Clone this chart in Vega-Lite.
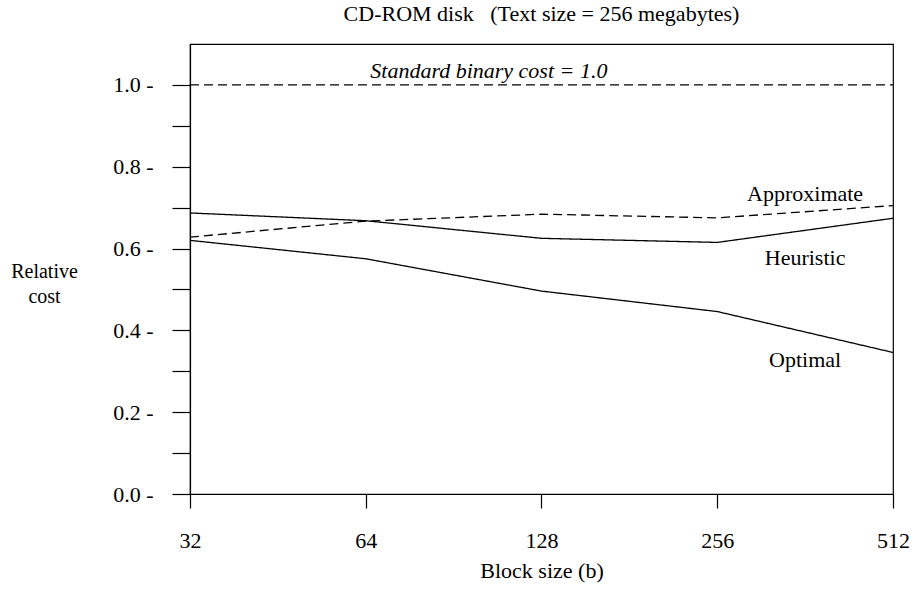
{
  "$schema": "https://vega.github.io/schema/vega-lite/v6.json",
  "width": 703,
  "height": 450,
  "autosize": {"type": "none"},
  "padding": {"left": 190, "top": 44, "right": 22, "bottom": 95},
  "background": "white",
  "title": {
    "text": "CD-ROM disk \u00a0 (Text size = 256 megabytes)",
    "font": "Liberation Serif",
    "fontSize": 22,
    "fontWeight": "normal",
    "color": "black",
    "anchor": "middle",
    "offset": 18
  },
  "config": {
    "font": "Liberation Serif",
    "view": {"stroke": "black", "strokeWidth": 1.2},
    "axis": {
      "domainColor": "black",
      "domainWidth": 1.2,
      "tickColor": "black",
      "tickWidth": 1.2,
      "labelColor": "black",
      "titleColor": "black",
      "labelFont": "Liberation Serif",
      "titleFont": "Liberation Serif",
      "labelFontSize": 22,
      "titleFontSize": 22,
      "titleFontWeight": "normal",
      "grid": false,
      "labelOverlap": false,
      "labelFlush": false,
      "labelBound": false
    }
  },
  "datasets": {
    "curves": [
      {"b": 32, "cost": 0.62, "series": "Optimal"},
      {"b": 64, "cost": 0.575, "series": "Optimal"},
      {"b": 128, "cost": 0.496, "series": "Optimal"},
      {"b": 256, "cost": 0.446, "series": "Optimal"},
      {"b": 512, "cost": 0.346, "series": "Optimal"},
      {"b": 32, "cost": 0.687, "series": "Heuristic"},
      {"b": 64, "cost": 0.668, "series": "Heuristic"},
      {"b": 128, "cost": 0.625, "series": "Heuristic"},
      {"b": 256, "cost": 0.615, "series": "Heuristic"},
      {"b": 512, "cost": 0.674, "series": "Heuristic"},
      {"b": 32, "cost": 0.628, "series": "Approximate"},
      {"b": 64, "cost": 0.667, "series": "Approximate"},
      {"b": 128, "cost": 0.684, "series": "Approximate"},
      {"b": 256, "cost": 0.675, "series": "Approximate"},
      {"b": 512, "cost": 0.705, "series": "Approximate"},
      {"b": 32, "cost": 1.0, "series": "Standard"},
      {"b": 512, "cost": 1.0, "series": "Standard"}
    ],
    "labels": [
      {"b": 362, "cost": 0.734, "label": "Approximate"},
      {"b": 362, "cost": 0.578, "label": "Heuristic"},
      {"b": 362, "cost": 0.327, "label": "Optimal"}
    ],
    "note": [
      {"b": 104, "cost": 1.034, "label": "Standard binary cost = 1.0"}
    ]
  },
  "layer": [
    {
      "data": {"name": "curves"},
      "mark": {"type": "line", "color": "black", "strokeWidth": 1.3},
      "encoding": {
        "x": {
          "field": "b",
          "type": "quantitative",
          "scale": {"type": "log", "base": 2, "domain": [32, 512], "nice": false},
          "axis": {
            "values": [32, 64, 128, 256, 512],
            "format": "d",
            "tickSize": 14,
            "labelPadding": 22,
            "title": "Block size (b)",
            "titleY": 76,
            "titleBaseline": "middle"
          }
        },
        "y": {
          "field": "cost",
          "type": "quantitative",
          "scale": {"domain": [0, 1.1], "nice": false},
          "axis": {
            "values": [0, 0.1, 0.2, 0.3, 0.4, 0.5, 0.6, 0.7, 0.8, 0.9, 1.0],
            "labelExpr": "round(datum.value*10) % 2 == 0 ? format(datum.value, '.1f') + ' -' : ''",
            "tickSize": 18,
            "labelPadding": 19,
            "title": ["Relative", "cost"],
            "titleAngle": 0,
            "titleX": -146,
            "titleY": 227,
            "titleAlign": "center",
            "titleBaseline": "middle",
            "titleFontSize": 20,
            "titleLineHeight": 25
          }
        },
        "detail": {"field": "series"},
        "strokeDash": {
          "field": "series",
          "type": "nominal",
          "scale": {
            "domain": ["Optimal", "Heuristic", "Approximate", "Standard"],
            "range": [[1, 0], [1, 0], [9, 5], [9, 5]]
          },
          "legend": null
        }
      }
    },
    {
      "data": {"name": "labels"},
      "mark": {"type": "text", "font": "Liberation Serif", "fontSize": 22, "color": "black", "align": "center", "baseline": "middle"},
      "encoding": {
        "x": {"field": "b", "type": "quantitative"},
        "y": {"field": "cost", "type": "quantitative"},
        "text": {"field": "label"}
      }
    },
    {
      "data": {"name": "note"},
      "mark": {"type": "text", "font": "Liberation Serif", "fontSize": 22, "fontStyle": "italic", "color": "black", "align": "center", "baseline": "middle"},
      "encoding": {
        "x": {"field": "b", "type": "quantitative"},
        "y": {"field": "cost", "type": "quantitative"},
        "text": {"field": "label"}
      }
    }
  ]
}
